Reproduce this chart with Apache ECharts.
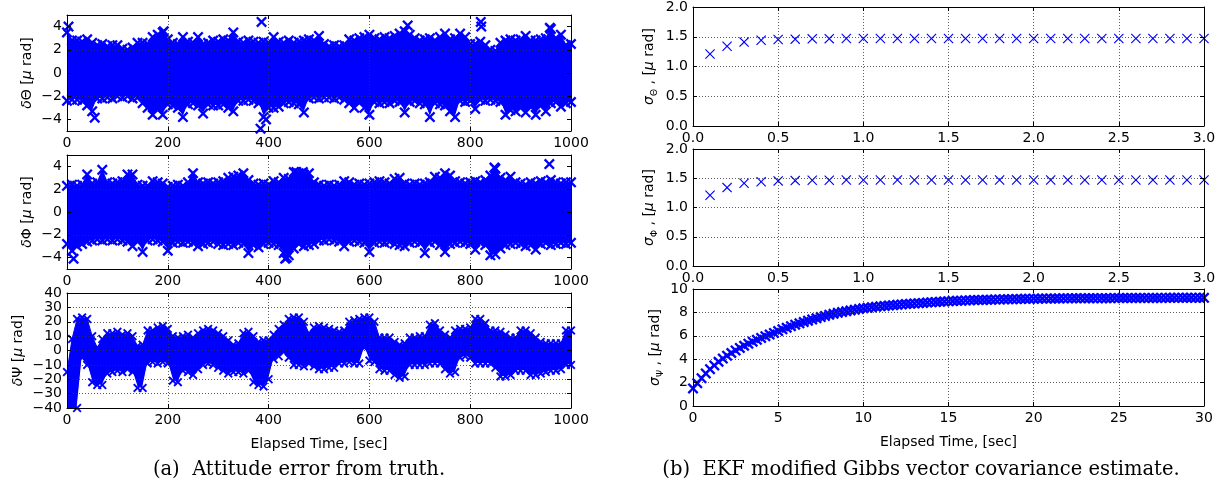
<!DOCTYPE html>
<html>
<head>
<meta charset="utf-8">
<script src="https://cdn.jsdelivr.net/npm/echarts@6/dist/echarts.min.js"></script>
<style>
  html, body { margin: 0; padding: 0; background: #fff; }
  #chart { width: 1225px; height: 491px; }
</style>
</head>
<body>
<div id="chart"></div>
<script>
// attitude error band edges, one value every 10 s from 0 to 1000 s
const errStep = 10;
const thetaHi = [
  3.5, 2.8, 2.8, 2.7, 2.9, 2.6, 2.4, 2.5, 2.3, 2.4,
  2.4, 2.1, 2.0, 2.2, 2.6, 2.6, 2.5, 3.1, 3.3, 3.5,
  2.9, 2.6, 2.5, 3.1, 2.7, 2.6, 3.1, 2.5, 2.6, 2.8,
  2.7, 2.9, 2.8, 3.5, 2.7, 2.6, 2.8, 2.7, 2.6, 2.7,
  2.6, 3.1, 2.7, 2.6, 2.8, 2.6, 2.7, 2.8, 2.9, 2.8,
  3.2, 2.5, 2.3, 2.4, 2.3, 2.4, 2.9, 2.8, 3.0, 3.1,
  3.3, 3.0, 2.9, 3.1, 3.0, 3.2, 3.4, 3.6, 3.3, 3.0,
  2.8, 2.9, 3.0, 2.8, 3.1, 3.4, 2.9, 3.0, 3.4, 3.1,
  2.5, 2.5, 2.7, 2.4, 2.0, 1.9, 2.6, 2.8, 2.9, 2.8,
  2.9, 3.2, 2.8, 2.8, 2.9, 3.0, 3.8, 3.0, 3.3, 2.4,
  2.5
];
const thetaLo = [
  -2.4, -2.3, -2.3, -2.4, -2.8, -3.3, -2.2, -2.2, -2.1, -2.2,
  -2.0, -2.1, -2.0, -2.2, -2.1, -2.6, -3.0, -3.6, -3.1, -3.6,
  -2.7, -2.8, -3.0, -3.8, -2.7, -2.6, -2.8, -3.5, -2.7, -2.8,
  -2.8, -2.7, -3.0, -3.3, -2.4, -2.4, -2.3, -2.4, -2.6, -3.8,
  -3.0, -3.0, -2.9, -2.6, -2.5, -2.6, -2.7, -3.4, -2.2, -2.1,
  -2.2, -2.1, -2.1, -2.2, -2.1, -2.3, -2.6, -3.0, -2.5, -3.0,
  -3.6, -2.5, -2.6, -2.5, -2.6, -2.4, -2.5, -3.4, -2.5, -2.4,
  -2.6, -2.7, -3.8, -2.6, -2.7, -2.8, -3.3, -3.8, -2.4, -2.5,
  -2.4, -3.1, -2.3, -2.4, -2.3, -2.4, -2.5, -3.6, -3.2, -3.3,
  -3.0, -3.4, -2.9, -3.6, -2.8, -3.3, -2.6, -2.5, -2.9, -2.6,
  -2.5
];
const thetaOutliers = [[3, 4.0], [55, -3.85], [192, 3.6], [384, -4.8], [386, 4.4], [395, -4.0],
  [676, 4.1], [821, 4.4], [822, 4.0], [958, 3.9]];

const phiHi = [
  2.3, 2.4, 2.3, 2.4, 3.3, 2.5, 2.6, 3.7, 2.6, 2.5,
  2.6, 2.7, 3.3, 3.3, 2.4, 2.3, 2.3, 2.7, 2.6, 2.5,
  2.2, 2.3, 2.4, 2.3, 2.6, 3.4, 2.6, 2.5, 2.6, 2.5,
  2.6, 2.7, 3.0, 3.1, 3.2, 3.4, 2.8, 2.5, 2.4, 2.5,
  2.4, 2.7, 2.6, 3.0, 2.9, 3.5, 3.4, 3.3, 3.4, 2.6,
  2.4, 2.3, 2.4, 2.3, 2.4, 2.7, 2.6, 2.4, 2.5, 2.4,
  2.5, 2.6, 2.7, 2.6, 2.5, 2.9, 3.0, 2.5, 2.4, 2.5,
  2.4, 2.5, 2.6, 3.1, 3.0, 3.4, 3.2, 2.7, 2.6, 2.5,
  2.6, 2.7, 2.6, 2.8, 3.2, 3.8, 3.0, 2.8, 3.1, 2.6,
  2.5, 2.4, 2.6, 2.5, 2.7, 2.6, 2.8, 2.6, 2.5, 2.6,
  2.6
];
const phiLo = [
  -2.8, -3.4, -3.0, -2.8, -2.6, -2.5, -2.4, -2.5, -2.4, -2.5,
  -2.4, -2.5, -2.6, -3.0, -2.6, -3.5, -2.5, -2.4, -2.5, -2.6,
  -3.4, -2.7, -2.6, -2.7, -2.6, -2.7, -3.0, -2.8, -2.7, -2.6,
  -2.8, -2.9, -2.8, -2.9, -2.7, -2.8, -3.6, -2.9, -3.1, -2.8,
  -2.7, -2.8, -2.9, -3.6, -3.8, -3.2, -2.8, -3.0, -2.9, -2.8,
  -2.5, -2.5, -2.4, -2.5, -2.6, -3.0, -2.6, -2.5, -2.6, -2.7,
  -3.5, -2.7, -2.6, -2.7, -2.6, -2.8, -2.9, -3.0, -2.7, -2.6,
  -2.7, -3.6, -2.7, -2.6, -2.9, -3.5, -2.8, -2.7, -2.6, -2.7,
  -2.8, -3.3, -2.7, -2.9, -3.8, -3.7, -3.2, -2.9, -2.8, -2.7,
  -2.8, -3.0, -2.9, -3.3, -2.8, -2.7, -2.9, -2.8, -2.7, -2.8,
  -2.7
];
const phiOutliers = [[13, -4.1], [433, -4.1], [436, -4.0], [455, 3.5], [468, 3.5], [848, 3.9], [957, 4.2]];

const psiHi = [
  -15, 8, 22, 23, 22, 10, 2, 8, 12, 12,
  13, 11, 12, 10, 3, 4, 14, 14, 16, 17,
  15, 10, 9, 10, 11, 9, 12, 14, 15, 14,
  12, 10, 7, 4, 5, 12, 13, 10, 6, 7,
  7, 11, 15, 18, 22, 23, 23, 20, 12, 16,
  17, 16, 15, 14, 13, 14, 20, 21, 22, 23,
  23, 20, 9, 9, 9, 6, 4, 5, 9, 9,
  10, 10, 18, 19, 14, 11, 9, 14, 15, 15,
  16, 22, 22, 19, 14, 14, 13, 11, 9, 9,
  14, 14, 12, 9, 6, 5, 5, 5, 5, 14,
  14
];
const psiLo = [
  -42, -42, -40, -5, -10, -22, -24, -24, -16, -15,
  -14, -15, -13, -15, -26, -26, -9, -8, -9, -8,
  -9, -21, -22, -14, -15, -17, -13, -10, -9, -10,
  -12, -14, -16, -15, -15, -16, -14, -22, -24, -25,
  -20, -6, -4, -1, -5, -10, -10, -11, -9, -11,
  -13, -13, -12, -12, -9, -9, -8, -9, -9, 2,
  -7, -8, -13, -14, -14, -17, -19, -18, -10, -10,
  -10, -10, -9, -9, -9, -13, -16, -15, -5, -4,
  -5, -9, -9, -9, -9, -12, -18, -18, -17, -14,
  -14, -14, -17, -17, -16, -15, -14, -14, -13, -10,
  -10
];

// covariance estimates
const sigmaTimeStart = 0.1, sigmaTimeStep = 0.1;
const sigmaTheta = [1.21, 1.34, 1.41, 1.44, 1.455, 1.46, 1.465, 1.468, 1.47, 1.47,
  1.47, 1.47, 1.47, 1.47, 1.47, 1.47, 1.47, 1.47, 1.47, 1.47,
  1.47, 1.47, 1.47, 1.47, 1.47, 1.47, 1.47, 1.47, 1.47, 1.47];
const sigmaPhi = [1.21, 1.34, 1.415, 1.44, 1.455, 1.46, 1.465, 1.467, 1.47, 1.47,
  1.47, 1.47, 1.47, 1.47, 1.47, 1.47, 1.47, 1.47, 1.47, 1.47,
  1.47, 1.47, 1.47, 1.47, 1.47, 1.47, 1.47, 1.47, 1.47, 1.47];
const psiTimeStep = 0.25;
const sigmaPsi = [
  1.50, 1.95, 2.38, 2.78, 3.15, 3.47, 3.78, 4.05, 4.30, 4.53,
  4.75, 4.96, 5.15, 5.33, 5.50, 5.66, 5.82, 5.97, 6.11, 6.25,
  6.40, 6.55, 6.69, 6.82, 6.95, 7.07, 7.18, 7.29, 7.40, 7.50,
  7.60, 7.70, 7.80, 7.88, 7.96, 8.03, 8.10, 8.17, 8.23, 8.29,
  8.35, 8.39, 8.44, 8.48, 8.52, 8.55, 8.59, 8.62, 8.65, 8.68,
  8.71, 8.73, 8.76, 8.79, 8.81, 8.84, 8.86, 8.88, 8.91, 8.93,
  8.95, 8.97, 8.99, 9.00, 9.02, 9.03, 9.05, 9.06, 9.07, 9.08,
  9.09, 9.10, 9.11, 9.12, 9.13, 9.13, 9.14, 9.15, 9.16, 9.16,
  9.17, 9.17, 9.18, 9.18, 9.19, 9.19, 9.19, 9.20, 9.20, 9.20,
  9.21, 9.21, 9.21, 9.21, 9.22, 9.22, 9.22, 9.22, 9.22, 9.23,
  9.23, 9.23, 9.23, 9.23, 9.24, 9.24, 9.24, 9.24, 9.24, 9.24,
  9.24, 9.25, 9.25, 9.25, 9.25, 9.25, 9.25, 9.25, 9.25, 9.25,
  9.25
];

const evenTicks = [-4, -2, 0, 2, 4];

const BLUE = '#0000ff';
const FONT = 'DejaVu Sans';
const X_BOLD = 'path://M0,1.5L1.5,0L5,3.5L8.5,0L10,1.5L6.5,5L10,8.5L8.5,10L5,6.5L1.5,10L0,8.5L3.5,5Z';
const X_THIN = 'path://M0,0.8L0.8,0L5,4.2L9.2,0L10,0.8L5.8,5L10,9.2L9.2,10L5,5.8L0.8,10L0,9.2L4.2,5Z';

const minus = v => String(v).replace('-', '\u2212');
const oneDec = v => v.toFixed(1);

const grids = [
  { left: 67, top: 15, width: 504, height: 116 },
  { left: 67, top: 155, width: 504, height: 114 },
  { left: 67, top: 293, width: 504, height: 115 },
  { left: 693, top: 7, width: 511, height: 119 },
  { left: 693, top: 149, width: 511, height: 117 },
  { left: 693, top: 289, width: 511, height: 117 }
];

const xSpec = [
  { min: 0, max: 1000, interval: 200, fmt: minus },
  { min: 0, max: 1000, interval: 200, fmt: minus },
  { min: 0, max: 1000, interval: 200, fmt: minus, name: 'Elapsed Time, [sec]' },
  { min: 0, max: 3, interval: 0.5, fmt: oneDec },
  { min: 0, max: 3, interval: 0.5, fmt: oneDec },
  { min: 0, max: 30, interval: 5, fmt: minus, name: 'Elapsed Time, [sec]' }
];

const ySpec = [
  { min: -5, max: 5, interval: 1, fmt: minus, custom: evenTicks, name: '{i|δ}Θ [{i|μ} rad]', gap: 30 },
  { min: -5, max: 5, interval: 1, fmt: minus, custom: evenTicks, name: '{i|δ}Φ [{i|μ} rad]', gap: 30 },
  { min: -40, max: 40, interval: 10, fmt: minus, name: '{i|δ}Ψ [{i|μ} rad]', gap: 38 },
  { min: 0, max: 2, interval: 0.5, fmt: oneDec, name: '{i|σ}{sub|Θ} , [{i|μ} rad]', gap: 34 },
  { min: 0, max: 2, interval: 0.5, fmt: oneDec, name: '{i|σ}{sub|Φ} , [{i|μ} rad]', gap: 34 },
  { min: 0, max: 10, interval: 2, fmt: minus, name: '{i|σ}{sub|Ψ} , [{i|μ} rad]', gap: 28 }
];

const gridLine = { show: true, lineStyle: { color: '#333', width: 0.8, type: [1, 2] } };
const tick = { show: true, inside: true, length: 4, lineStyle: { color: '#000', width: 1 } };
const axisLine = { show: true, onZero: false, lineStyle: { color: '#000', width: 1 } };

const xAxes = [], yAxes = [];
xSpec.forEach((s, i) => {
  xAxes.push({
    type: 'value', gridIndex: i, min: s.min, max: s.max, interval: s.interval, z: 10,
    axisLine, axisTick: tick, splitLine: gridLine,
    axisLabel: { color: '#000', fontFamily: FONT, fontSize: 14, margin: 5, formatter: s.fmt,
      showMinLabel: true, showMaxLabel: true },
    name: s.name || '', nameLocation: 'middle', nameGap: 29,
    nameTextStyle: { color: '#000', fontFamily: FONT, fontSize: 14 }
  });
});
ySpec.forEach((s, i) => {
  const split = s.custom
    ? { show: true, lineStyle: { color: ['rgba(0,0,0,0)', '#333'], width: 0.8, type: [1, 2] } }
    : gridLine;
  yAxes.push({
    type: 'value', gridIndex: i, min: s.min, max: s.max, interval: s.interval, z: 10,
    axisLine, splitLine: split,
    axisTick: s.custom ? Object.assign({}, tick, { customValues: s.custom }) : tick,
    axisLabel: Object.assign({ color: '#000', fontFamily: FONT, fontSize: 14, margin: 5, formatter: s.fmt,
      showMinLabel: true, showMaxLabel: true }, s.custom ? { customValues: s.custom } : {}),
    name: s.name, nameLocation: 'middle', nameGap: s.gap, nameRotate: 90,
    nameTextStyle: {
      color: '#000', fontFamily: FONT, fontSize: 14, lineHeight: 20,
      rich: {
        i: { fontFamily: FONT, fontStyle: 'italic', fontSize: 14, lineHeight: 20 },
        sub: { fontFamily: FONT, fontSize: 9, lineHeight: 20, verticalAlign: 'bottom' }
      }
    }
  });
});
// mirrored frame axes on top and right, ticks only
xSpec.forEach((s, i) => {
  xAxes.push({
    type: 'value', gridIndex: i, position: 'top', min: s.min, max: s.max, interval: s.interval, z: 10,
    axisLine, axisTick: tick, splitLine: { show: false }, axisLabel: { show: false }
  });
});
ySpec.forEach((s, i) => {
  yAxes.push({
    type: 'value', gridIndex: i, position: 'right', min: s.min, max: s.max, interval: s.interval, z: 10,
    axisLine, splitLine: { show: false }, axisLabel: { show: false },
    axisTick: s.custom ? Object.assign({}, tick, { customValues: s.custom }) : tick
  });
});

// band: blue fill from the upper edge down to the axis floor, then white from the lower edge down
function band(hi, lo, idx) {
  const edge = (arr, color, z) => ({
    type: 'line', xAxisIndex: idx, yAxisIndex: idx, symbol: 'none', silent: true, z,
    data: arr.map((v, i) => [i * errStep, v]),
    lineStyle: { color, width: 1 }, areaStyle: { color, opacity: 1, origin: 'start' }
  });
  return [edge(hi, BLUE, 1), edge(lo, '#fff', 2)];
}

function marks(points, idx, symbol, size) {
  return {
    type: 'scatter', xAxisIndex: idx, yAxisIndex: idx, data: points, symbol, symbolSize: size, z: 4,
    itemStyle: { color: BLUE, opacity: 1 }, silent: true
  };
}

const edgePts = (hi, lo, extra) =>
  hi.map((v, i) => [i * errStep, v]).concat(lo.map((v, i) => [i * errStep, v]), extra);

const series = [
  ...band(thetaHi, thetaLo, 0),
  marks(edgePts(thetaHi, thetaLo, thetaOutliers), 0, X_BOLD, 11),
  ...band(phiHi, phiLo, 1),
  marks(edgePts(phiHi, phiLo, phiOutliers), 1, X_BOLD, 11),
  ...band(psiHi, psiLo, 2),
  marks(edgePts(psiHi, psiLo, []), 2, X_BOLD, 9),
  marks(sigmaTheta.map((v, i) => [sigmaTimeStart + i * sigmaTimeStep, v]), 3, X_THIN, 10),
  marks(sigmaPhi.map((v, i) => [sigmaTimeStart + i * sigmaTimeStep, v]), 4, X_THIN, 10),
  marks(sigmaPsi.map((v, i) => [i * psiTimeStep, v]), 5, X_BOLD, 11)
];

const chart = echarts.init(document.getElementById('chart'), null, { renderer: 'canvas' });
chart.setOption({
  animation: false,
  backgroundColor: '#fff',
  grid: grids,
  xAxis: xAxes,
  yAxis: yAxes,
  series,
  graphic: [
    { type: 'text', x: 299, y: 470, silent: true,
      style: { text: '(a)  Attitude error from truth.', fill: '#000', font: '19.5px "DejaVu Serif"',
        textAlign: 'center', textVerticalAlign: 'middle' } },
    { type: 'text', x: 921, y: 470, silent: true,
      style: { text: '(b)  EKF modified Gibbs vector covariance estimate.', fill: '#000', font: '19.5px "DejaVu Serif"',
        textAlign: 'center', textVerticalAlign: 'middle' } }
  ]
});
</script>
</body>
</html>
